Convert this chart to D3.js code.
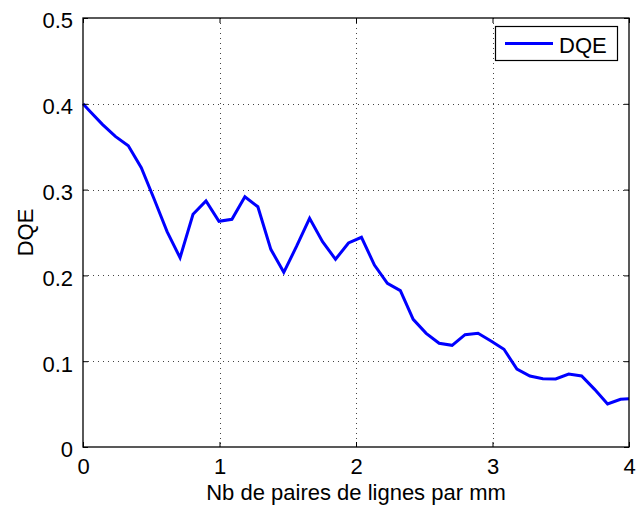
<!DOCTYPE html>
<html>
<head>
<meta charset="utf-8">
<script src="https://cdn.jsdelivr.net/npm/d3@7"></script>
<style>
  html, body { margin: 0; padding: 0; background: #fff; }
  svg { display: block; font-family: "Liberation Sans", Arial, Helvetica, sans-serif; }
</style>
</head>
<body>
<svg id="chart" width="636" height="507"></svg>
<script>
// Spatial frequency samples (line pairs per mm)
const freq = [0, 0.047, 0.142, 0.237, 0.332, 0.427, 0.521, 0.616, 0.711, 0.806,
  0.901, 0.996, 1.091, 1.186, 1.281, 1.376, 1.471, 1.565, 1.660, 1.755,
  1.850, 1.945, 2.040, 2.135, 2.230, 2.325, 2.419, 2.514, 2.609, 2.704,
  2.799, 2.894, 2.989, 3.084, 3.179, 3.274, 3.369, 3.463, 3.558, 3.653,
  3.748, 3.843, 3.938, 4.0];

// Measured detective quantum efficiency at each frequency
const dqe = [0.400, 0.392, 0.376, 0.362, 0.351, 0.3255, 0.289, 0.251, 0.2206, 0.2712,
  0.2867, 0.263, 0.2654, 0.2917, 0.280, 0.2304, 0.2036, 0.234, 0.2666, 0.2393,
  0.2188, 0.2378, 0.2444, 0.2121, 0.1908, 0.1822, 0.1488, 0.1325, 0.1209, 0.1185,
  0.1309, 0.1325, 0.1236, 0.1139, 0.0909, 0.0828, 0.0796, 0.0793, 0.0851, 0.0828,
  0.0672, 0.0501, 0.0556, 0.0563];

const xTicks = [0, 1, 2, 3, 4];
const yTicks = [0, 0.1, 0.2, 0.3, 0.4, 0.5];
const xLabel = "Nb de paires de lignes par mm";
const yLabel = "DQE";
const seriesName = "DQE";

const svg = d3.select("#chart");
const plot = { left: 83, top: 18, right: 629, bottom: 447 };

const x = d3.scaleLinear().domain([0, 4]).range([plot.left, plot.right]);
const y = d3.scaleLinear().domain([0, 0.5]).range([plot.bottom, plot.top]);

const fontSize = 22;

// Dotted grid
const grid = svg.append("g").attr("stroke", "#444").attr("stroke-width", 1)
  .attr("stroke-dasharray", "1,4");
grid.selectAll("line.gx").data(xTicks.slice(1, -1)).join("line")
  .attr("x1", d => Math.round(x(d)) + 0.5).attr("x2", d => Math.round(x(d)) + 0.5)
  .attr("y1", plot.top).attr("y2", plot.bottom);
grid.selectAll("line.gy").data(yTicks.slice(1, -1)).join("line")
  .attr("y1", d => Math.round(y(d)) + 0.5).attr("y2", d => Math.round(y(d)) + 0.5)
  .attr("x1", plot.left).attr("x2", plot.right);

// Data line
const line = d3.line().x((d, i) => x(freq[i])).y(d => y(d));
svg.append("path")
  .datum(dqe)
  .attr("d", line)
  .attr("fill", "none")
  .attr("stroke", "#0000ff")
  .attr("stroke-width", 3)
  .attr("stroke-linejoin", "miter");

// Axes: bottom/left carry labels, top/right mirror ticks, all ticks inward
const tickLen = 5;
const axisBottom = d3.axisBottom(x).tickValues(xTicks).tickSizeInner(-tickLen).tickSizeOuter(0)
  .tickPadding(11).tickFormat(d3.format("d"));
const axisLeft = d3.axisLeft(y).tickValues(yTicks).tickSizeInner(-tickLen).tickSizeOuter(0)
  .tickPadding(10).tickFormat(d => d === 0 ? "0" : d3.format(".1f")(d));
const axisTop = d3.axisTop(x).tickValues(xTicks).tickSizeInner(-tickLen).tickSizeOuter(0).tickFormat("");
const axisRight = d3.axisRight(y).tickValues(yTicks).tickSizeInner(-tickLen).tickSizeOuter(0).tickFormat("");

function style(g) {
  g.selectAll(".domain").remove();
  g.selectAll(".tick line").attr("stroke", "#000").attr("stroke-width", 1);
  g.selectAll(".tick text").attr("fill", "#000")
    .attr("font-size", fontSize)
    .attr("font-family", "'Liberation Sans', Arial, Helvetica, sans-serif");
}

svg.append("g").attr("transform", `translate(0,${plot.bottom})`).call(axisBottom).call(style)
  .selectAll(".tick text").attr("dy", "0.71em");
svg.append("g").attr("transform", `translate(${plot.left},0)`).call(axisLeft).call(style)
  .selectAll(".tick text").attr("dy", "0.45em");
svg.append("g").attr("transform", `translate(0,${plot.top})`).call(axisTop).call(style);
svg.append("g").attr("transform", `translate(${plot.right},0)`).call(axisRight).call(style);

// Axes box
svg.append("rect")
  .attr("x", plot.left).attr("y", plot.top)
  .attr("width", plot.right - plot.left).attr("height", plot.bottom - plot.top)
  .attr("fill", "none").attr("stroke", "#000").attr("stroke-width", 1.3);

// Axis titles
svg.append("text")
  .attr("x", (plot.left + plot.right) / 2).attr("y", 500)
  .attr("text-anchor", "middle").attr("font-size", fontSize).attr("fill", "#000")
  .text(xLabel);
svg.append("text")
  .attr("transform", `translate(33,${(plot.top + plot.bottom) / 2}) rotate(-90)`)
  .attr("text-anchor", "middle").attr("font-size", fontSize).attr("fill", "#000")
  .text(yLabel);

// Legend
const legend = svg.append("g");
legend.append("rect")
  .attr("x", 495.5).attr("y", 26.5).attr("width", 122).attr("height", 34)
  .attr("fill", "#fff").attr("stroke", "#000").attr("stroke-width", 1.2);
legend.append("line")
  .attr("x1", 505).attr("x2", 553).attr("y1", 43.5).attr("y2", 43.5)
  .attr("stroke", "#0000ff").attr("stroke-width", 3);
legend.append("text")
  .attr("x", 559).attr("y", 53)
  .attr("font-size", fontSize).attr("fill", "#000")
  .text(seriesName);
</script>
</body>
</html>
